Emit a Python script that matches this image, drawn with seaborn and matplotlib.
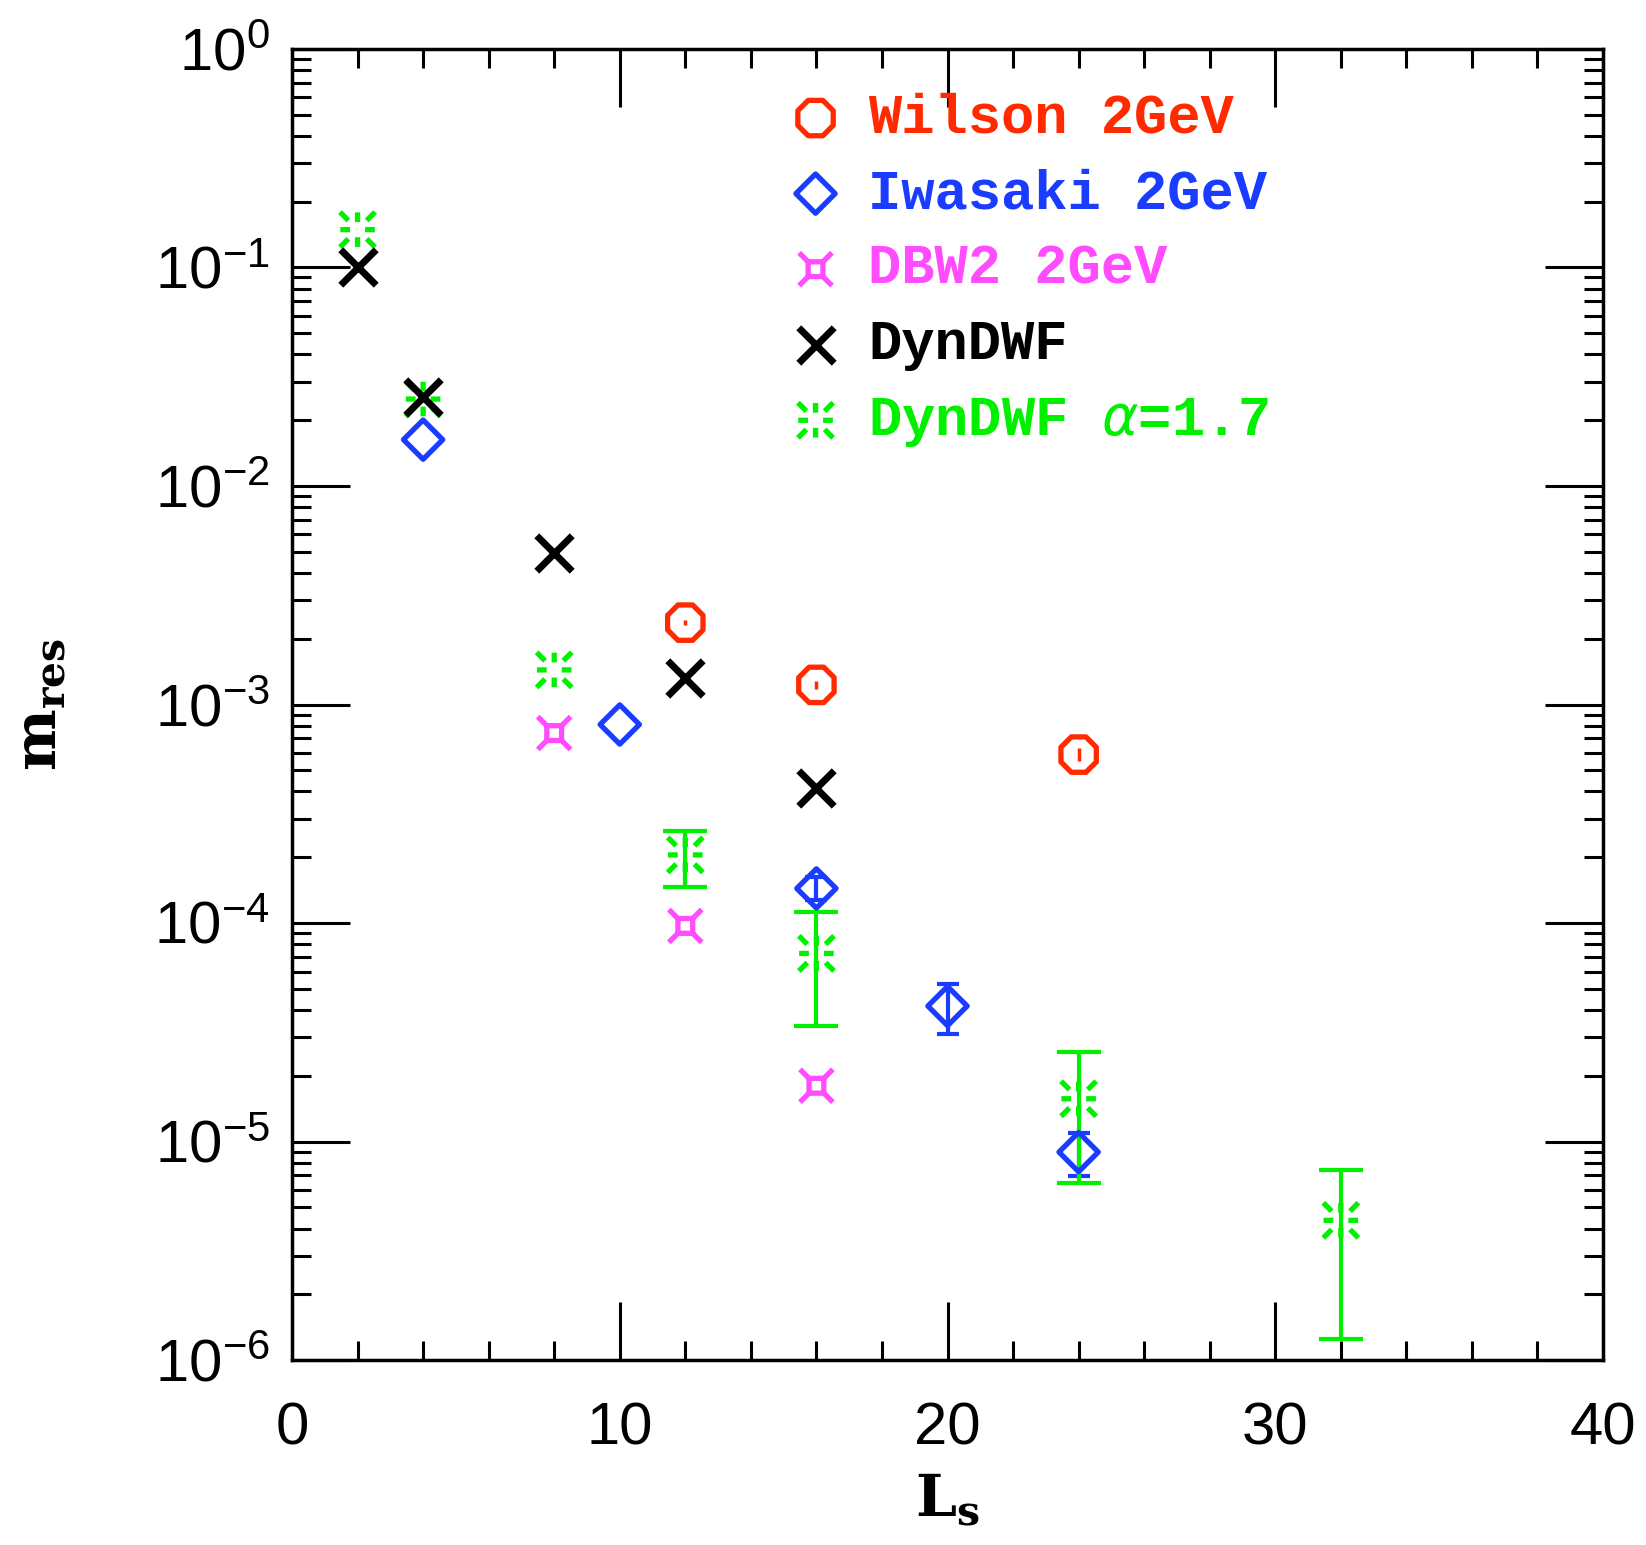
import numpy as np
import pandas as pd
import seaborn as sns
import matplotlib.pyplot as plt
from matplotlib.path import Path

# residual mass vs Ls
wil_ls = [12, 16, 24]
wil_m = [2.37e-3, 1.23e-3, 5.9e-4]
wil_lo = [2.30e-3, 1.18e-3, 5.5e-4]
wil_hi = [2.44e-3, 1.28e-3, 6.3e-4]

iwa_ls = [4, 10, 16, 20, 24]
iwa_m = [1.63e-2, 8.1e-4, 1.44e-4, 4.17e-5, 8.95e-6]
iwa_lo = [1.50e-2, 7.9e-4, 1.27e-4, 3.09e-5, 6.94e-6]
iwa_hi = [1.76e-2, 8.3e-4, 1.62e-4, 5.26e-5, 1.10e-5]

dbw_ls = [8, 12, 16]
dbw_m = [7.4e-4, 9.7e-5, 1.8e-5]

dyn_ls = [2, 4, 8, 12, 16]
dyn_m = [1.0e-1, 2.56e-2, 4.92e-3, 1.32e-3, 4.17e-4]

alp_ls = [2, 4, 8, 12, 16, 24, 32]
alp_m = [1.49e-1, 2.5e-2, 1.44e-3, 2.05e-4, 7.26e-5, 1.57e-5, 4.36e-6]
alp_lo = [1.47e-1, 2.45e-2, 1.40e-3, 1.46e-4, 3.38e-5, 6.43e-6, 1.25e-6]
alp_hi = [1.51e-1, 2.55e-2, 1.48e-3, 2.65e-4, 1.12e-4, 2.56e-5, 7.41e-6]

labels = ["Wilson 2GeV", "Iwasaki 2GeV", "DBW2 2GeV", "DynDWF", r"DynDWF $\alpha$=1.7"]
colors = ["#ff2a00", "#1a3cff", "#ff4cff", "black", "#00f000"]

# custom markers: square with corner spurs, and dashed burst
M, L = Path.MOVETO, Path.LINETO
sq_v = [(-.45, -.45), (.45, -.45), (.45, .45), (-.45, .45), (-.45, -.45)]
sq_c = [M, L, L, L, L]
for sx, sy in [(-1, -1), (1, -1), (1, 1), (-1, 1)]:
    sq_v += [(.45 * sx, .45 * sy), (sx, sy)]
    sq_c += [M, L]
dbw_marker = Path(sq_v, sq_c)

b_v, b_c = [], []
for a in np.arange(8) * np.pi / 4:
    r0, r1 = (0.35, 0.8) if a % (np.pi / 2) < 1e-6 else (0.6, 1.15)
    b_v += [(r0 * np.cos(a), r0 * np.sin(a)), (r1 * np.cos(a), r1 * np.sin(a))]
    b_c += [M, L]
burst_marker = Path(b_v, b_c)

plt.rcParams['font.family'] = ['Liberation Sans', 'DejaVu Sans']
plt.rcParams['mathtext.fontset'] = 'dejavusans'

fig = plt.figure(figsize=(16.46, 15.45), dpi=100)
ax = fig.add_axes([0.1774, 0.1197, 0.7965, 0.8486])

def err(ls, m, lo, hi, c, cap, lw):
    m = np.array(m)
    ax.errorbar(ls, m, yerr=[m - np.array(lo), np.array(hi) - m], fmt='none',
                ecolor=c, elinewidth=lw, capsize=cap, capthick=lw, zorder=2)

err(wil_ls, wil_m, wil_lo, wil_hi, colors[0], 0, 2.5)
err(iwa_ls[2:], iwa_m[2:], iwa_lo[2:], iwa_hi[2:], colors[1], 8, 3)
err(alp_ls[3:], alp_m[3:], alp_lo[3:], alp_hi[3:], colors[4], 16, 3)

sns.scatterplot(x=wil_ls, y=wil_m, ax=ax, marker='8', s=760, fc='none',
                ec=colors[0], linewidth=3.8, label=labels[0], zorder=3)
sns.scatterplot(x=iwa_ls, y=iwa_m, ax=ax, marker='D', s=400, fc='none',
                ec=colors[1], linewidth=3.8, label=labels[1], zorder=3)
sns.scatterplot(x=dbw_ls, y=dbw_m, ax=ax, marker=dbw_marker, s=560, fc='none',
                ec=colors[2], linewidth=3.8, label=labels[2], zorder=3)
sns.scatterplot(x=dyn_ls, y=dyn_m, ax=ax, marker='x', s=650, color=colors[3],
                linewidth=5, label=labels[3], zorder=4)
sns.scatterplot(x=alp_ls, y=alp_m, ax=ax, marker=burst_marker, s=640, fc='none',
                ec=colors[4], linewidth=3.8, label=labels[4], zorder=3)

ax.set_yscale('log')
ax.set_xlim(0, 40)
ax.set_ylim(1e-6, 1)
ax.set_xticks([0, 10, 20, 30, 40])
ax.set_xticks(np.arange(0, 41, 2), minor=True)
ax.tick_params(which='both', direction='in', top=True, right=True, width=2.2,
               labelsize=43)
ax.tick_params(which='major', length=42)
ax.tick_params(which='minor', length=14)
ax.tick_params(axis='x', pad=30)
ax.tick_params(axis='y', pad=16)
for s in ax.spines.values():
    s.set_linewidth(2.5)

ax.set_xlabel(r"L$_\mathregular{s}$", fontsize=42, family='DejaVu Serif',
              fontweight='bold', labelpad=10)
ax.set_ylabel(r"m$_\mathregular{res}$", fontsize=42, family='DejaVu Serif',
              fontweight='bold', labelpad=62)

leg = ax.legend(loc='upper left', bbox_to_anchor=(0.34, 1.005), frameon=False,
                prop={'family': ['Liberation Mono', 'DejaVu Sans'], 'size': 40, 'weight': 'bold'},
                handlelength=1.0, handletextpad=0.45, labelspacing=0.42,
                markerscale=1.0)
for t, c in zip(leg.get_texts(), colors):
    t.set_color(c)

fig.savefig("out.png", dpi=100)
